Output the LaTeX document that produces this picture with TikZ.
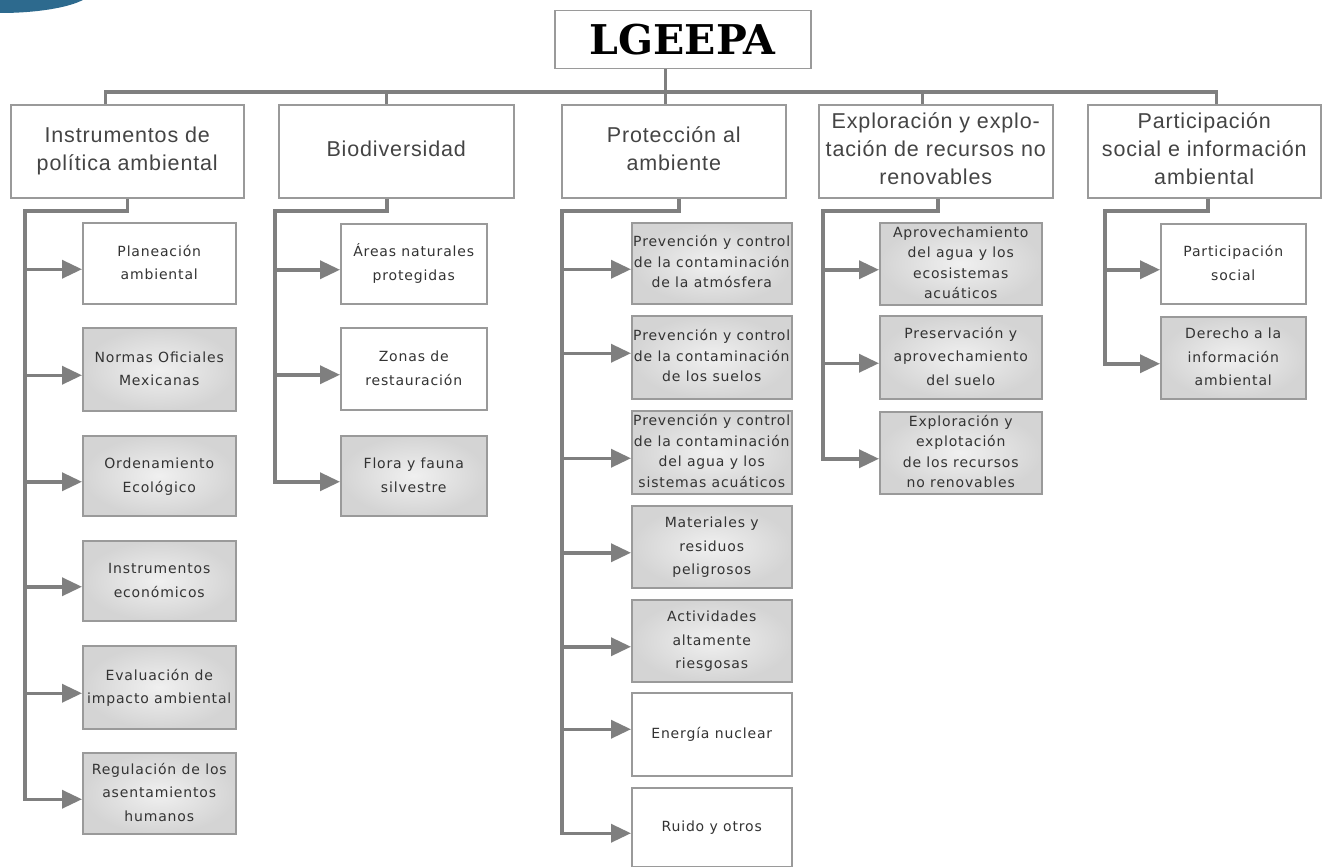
\documentclass[tikz,border=0pt]{standalone}
\usepackage{fontspec}
\usetikzlibrary{arrows.meta}
\newfontfamily\lvfont[LetterSpace=4]{Liberation Sans}
\newfontfamily\cfont[LetterSpace=6]{DejaVu Sans}
\newfontfamily\titlefont{DejaVu Serif}
\definecolor{linegray}{HTML}{7F7F7F}
\definecolor{boxgray}{HTML}{9A9A9A}
\definecolor{txtgray}{HTML}{333333}
\definecolor{headtxt}{HTML}{444444}
\definecolor{slideblue}{HTML}{2D6A8E}
\definecolor{shadein}{HTML}{F0F0F0}
\definecolor{shadeout}{HTML}{D4D4D4}
\newcommand{\ml}[1]{\makebox[0pt]{\begin{tabular}{@{}c@{}}#1\end{tabular}}}
\begin{document}
\begin{tikzpicture}[x=1pt,y=-1pt,
 base/.style={draw=boxgray, line width=1.5pt, inner sep=0pt, anchor=north west, text=txtgray},
 head/.style={base, fill=white, minimum height=93pt, text=headtxt, font=\lvfont\fontsize{21.5}{28}\selectfont},
 leaf/.style={base, fill=white, font=\cfont\fontsize{14}{23.5}\selectfont},
 leafg/.style={leaf, inner color=shadein, outer color=shadeout},
 tight/.style={font=\cfont\fontsize{14}{20.5}\selectfont},
 conn/.style={draw=linegray, line width=3.5pt, line join=miter},
 arr/.style={conn, -{Triangle[length=20pt,width=18pt]}},
]
\useasboundingbox (0,0) rectangle (1323,867);
\fill[white] (0,0) rectangle (1323,867);
\begin{scope}
\clip (0,0) rectangle (1323,867);
\fill[slideblue] (0,-10) ellipse [x radius=92, y radius=23];
\end{scope}

% title
\node[base, fill=white, minimum width=256pt, minimum height=58pt, text=black,
  font=\titlefont\bfseries\fontsize{41}{44}\selectfont] (top) at (554,10) {\makebox[0pt]{LGEEPA}};

% level 1
\node[head, minimum width=233pt] (n1) at (10,104) {\ml{Instrumentos de\\política ambiental}};
\node[head, minimum width=235pt] (n2) at (278,104) {\ml{Biodiversidad}};
\node[head, minimum width=224pt] (n3) at (561,104) {\ml{Protección al\\ambiente}};
\node[head, minimum width=234pt] (n4) at (818,104) {\ml{Exploración y explo-\\tación de recursos no\\renovables}};
\node[head, minimum width=233pt] (n5) at (1087,104) {\ml{Participación\\social e información\\ambiental}};

% column 1
\node[leaf,  minimum width=153pt, minimum height=81pt] (c11) at (82,222) {\ml{Planeación\\ambiental}};
\node[leafg, minimum width=153pt, minimum height=83pt] (c12) at (82,327) {\ml{Normas Oficiales\\Mexicanas}};
\node[leafg, minimum width=153pt, minimum height=80pt] (c13) at (82,435) {\ml{Ordenamiento\\Ecológico}};
\node[leafg, minimum width=153pt, minimum height=80pt] (c14) at (82,540) {\ml{Instrumentos\\económicos}};
\node[leafg, minimum width=153pt, minimum height=83pt] (c15) at (82,645) {\ml{Evaluación de\\impacto ambiental}};
\node[leafg, minimum width=153pt, minimum height=81pt] (c16) at (82,752) {\ml{Regulación de los\\asentamientos\\humanos}};

% column 2
\node[leaf,  minimum width=146pt, minimum height=80pt] (c21) at (340,223) {\ml{Áreas naturales\\protegidas}};
\node[leaf,  minimum width=146pt, minimum height=82pt] (c22) at (340,327) {\ml{Zonas de\\restauración}};
\node[leafg, minimum width=146pt, minimum height=80pt] (c23) at (340,435) {\ml{Flora y fauna\\silvestre}};

% column 3
\node[leafg, tight, minimum width=160pt, minimum height=81pt] (c31) at (631,222) {\ml{Prevención y control\\de la contaminación\\de la atmósfera}};
\node[leafg, tight, minimum width=160pt, minimum height=83pt] (c32) at (631,315) {\ml{Prevención y control\\de la contaminación\\de los suelos}};
\node[leafg, tight, minimum width=160pt, minimum height=83pt] (c33) at (631,410) {\ml{Prevención y control\\de la contaminación\\del agua y los\\sistemas acuáticos}};
\node[leafg, minimum width=160pt, minimum height=82pt] (c34) at (631,505) {\ml{Materiales y\\residuos\\peligrosos}};
\node[leafg, minimum width=160pt, minimum height=82pt] (c35) at (631,599) {\ml{Actividades\\altamente\\riesgosas}};
\node[leaf,  minimum width=160pt, minimum height=83pt] (c36) at (631,692) {\ml{Energía nuclear}};
\node[leaf,  minimum width=160pt, minimum height=79pt] (c37) at (631,787) {\ml{Ruido y otros}};

% column 4
\node[leafg, tight, minimum width=162pt, minimum height=81pt] (c41) at (879,222) {\ml{Aprovechamiento\\del agua y los\\ecosistemas\\acuáticos}};
\node[leafg, minimum width=162pt, minimum height=83pt] (c42) at (879,315) {\ml{Preservación y\\aprovechamiento\\del suelo}};
\node[leafg, tight, minimum width=162pt, minimum height=82pt] (c43) at (879,411) {\ml{Exploración y\\explotación\\de los recursos\\no renovables}};

% column 5
\node[leaf,  minimum width=145pt, minimum height=80pt] (c51) at (1160,223) {\ml{Participación\\social}};
\node[leafg, minimum width=145pt, minimum height=82pt] (c52) at (1160,316) {\ml{Derecho a la\\información\\ambiental}};

% arrow targets
\foreach \n in {c11,c12,c13,c14,c15,c16,c21,c22,c23,c31,c33,c34,c35,c37,c41,c42,c43,c51,c52}
  \coordinate (a\n) at ([yshift=-6pt]\n.west);
\coordinate (ac32) at ([yshift=4pt]c32.west);
\coordinate (ac36) at ([yshift=5pt]c36.west);

% spines
\coordinate (s1) at (25,211);
\coordinate (s2) at (275,211);
\coordinate (s3) at (562,211);
\coordinate (s4) at (823,211);
\coordinate (s5) at (1105,211);
\coordinate (bus) at (665,92);

% top connectors
\draw[conn, line width=3pt] ([xshift=-21.5pt]n1.north) |- (bus) -| ([xshift=12.5pt]n5.north);
\draw[conn, line width=3pt] (top.south -| bus) -- (n3.north -| bus);
\draw[conn, line width=3pt] ([xshift=-9.5pt]n2.north) -- ([xshift=-9.5pt]n2.north |- bus);
\draw[conn, line width=3pt] ([xshift=-13pt]n4.north) -- ([xshift=-13pt]n4.north |- bus);

% column 1 connectors
\draw[arr] (n1.south) |- (s1) |- (ac16);
\foreach \n in {c11,c12,c13,c14,c15} \draw[arr] (s1 |- a\n) -- (a\n);
% column 2
\draw[arr] ([xshift=-9.5pt]n2.south) |- (s2) |- (ac23);
\foreach \n in {c21,c22} \draw[arr] (s2 |- a\n) -- (a\n);
% column 3
\draw[arr] ([xshift=5pt]n3.south) |- (s3) |- (ac37);
\foreach \n in {c31,c32,c33,c34,c35,c36} \draw[arr] (s3 |- a\n) -- (a\n);
% column 4
\draw[arr] ([xshift=2pt]n4.south) |- (s4) |- (ac43);
\foreach \n in {c41,c42} \draw[arr] (s4 |- a\n) -- (a\n);
% column 5
\draw[arr] ([xshift=3.5pt]n5.south) |- (s5) |- (ac52);
\foreach \n in {c51} \draw[arr] (s5 |- a\n) -- (a\n);
\end{tikzpicture}
\end{document}
